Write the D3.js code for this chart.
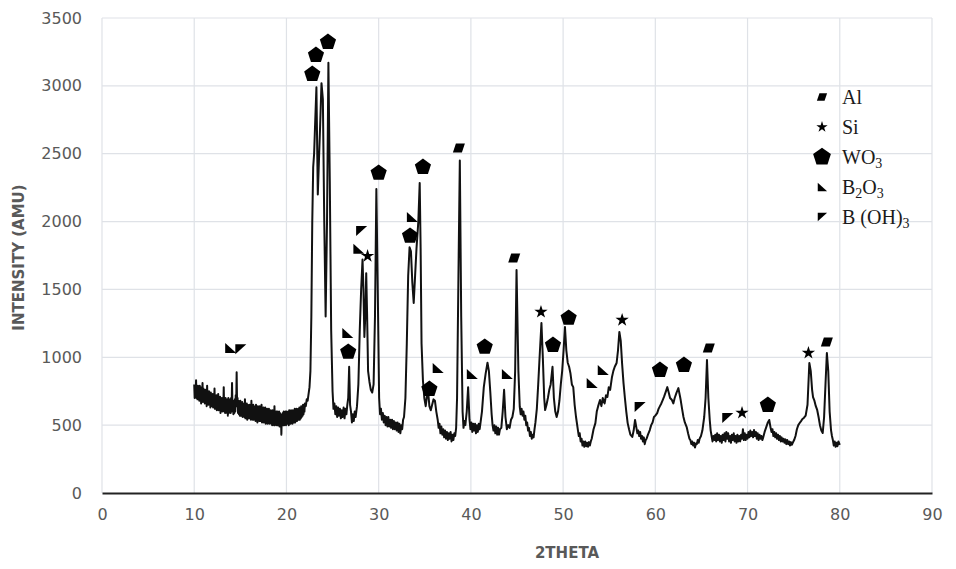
<!DOCTYPE html>
<html>
<head>
<meta charset="utf-8">
<script src="https://cdn.jsdelivr.net/npm/d3@7"></script>
<style>
  body { margin: 0; background: #fff; }
  #xrd-chart { width: 956px; height: 569px; }
</style>
</head>
<body>
<div id="xrd-chart"></div>
<script>
// XRD scan, [2theta, intensity]
const pattern = [
  [10.0,800],[10.05,700],[10.1,790],[10.15,720],[10.2,830],[10.25,700],[10.3,770],[10.35,690],[10.4,790],[10.45,700],
  [10.5,760],[10.55,680],[10.6,790],[10.65,710],[10.7,760],[10.75,660],[10.8,780],[10.85,690],[10.9,810],[10.95,670],
  [11.0,770],[11.05,680],[11.1,750],[11.15,660],[11.2,760],[11.25,670],[11.3,740],[11.35,640],[11.4,790],[11.45,660],
  [11.5,730],[11.55,650],[11.6,750],[11.65,660],[11.7,730],[11.75,630],[11.8,740],[11.85,650],[11.9,720],[11.95,640],
  [12.0,730],[12.05,630],[12.1,720],[12.15,640],[12.2,770],[12.25,620],[12.3,710],[12.35,630],[12.4,720],[12.45,610],
  [12.5,700],[12.55,630],[12.6,730],[12.65,610],[12.7,700],[12.75,620],[12.8,710],[12.85,590],[12.9,700],[12.95,610],
  [13.0,700],[13.05,600],[13.1,690],[13.15,610],[13.2,780],[13.25,600],[13.3,690],[13.35,590],[13.4,700],[13.45,600],
  [13.5,680],[13.55,590],[13.6,690],[13.65,570],[13.7,700],[13.75,590],[13.8,680],[13.85,600],[13.9,690],[13.95,590],
  [14.0,700],[14.05,600],[14.1,810],[14.15,620],[14.2,680],[14.25,580],[14.3,670],[14.35,590],[14.4,690],[14.45,600],
  [14.5,720],[14.55,640],[14.6,890],[14.65,650],[14.7,700],[14.75,590],[14.8,680],[14.85,580],[14.9,670],[14.95,570],
  [15.0,680],[15.05,570],[15.1,660],[15.15,570],[15.2,670],[15.25,560],[15.3,660],[15.35,570],[15.4,650],[15.45,560],
  [15.5,690],[15.55,550],[15.6,650],[15.65,560],[15.7,660],[15.75,540],[15.8,650],[15.85,560],[15.9,640],[15.95,550],
  [16.0,650],[16.05,550],[16.1,640],[16.15,540],[16.2,680],[16.25,550],[16.3,640],[16.35,540],[16.4,650],[16.45,540],
  [16.5,630],[16.55,550],[16.6,640],[16.65,530],[16.7,650],[16.75,540],[16.8,630],[16.85,520],[16.9,640],[16.95,540],
  [17.0,630],[17.05,530],[17.1,640],[17.15,530],[17.2,620],[17.25,530],[17.3,650],[17.35,520],[17.4,620],[17.45,530],
  [17.5,630],[17.55,520],[17.6,610],[17.65,530],[17.7,630],[17.75,510],[17.8,610],[17.85,520],[17.9,620],[17.95,510],
  [18.0,610],[18.05,520],[18.1,620],[18.15,510],[18.2,600],[18.25,520],[18.3,610],[18.35,510],[18.4,600],[18.45,500],
  [18.5,610],[18.55,510],[18.6,600],[18.65,500],[18.7,640],[18.75,500],[18.8,590],[18.85,510],[18.9,600],[18.95,500],
  [19.0,600],[19.05,500],[19.1,590],[19.15,500],[19.2,600],[19.25,490],[19.3,590],[19.35,500],[19.4,580],[19.45,430],
  [19.5,580],[19.55,500],[19.6,590],[19.65,500],[19.7,600],[19.75,500],[19.8,590],[19.85,510],[19.9,600],[19.95,500],
  [20.0,600],[20.05,510],[20.1,590],[20.15,510],[20.2,600],[20.25,500],[20.3,610],[20.35,510],[20.4,600],[20.45,510],
  [20.5,610],[20.55,520],[20.6,600],[20.65,510],[20.7,610],[20.75,520],[20.8,600],[20.85,520],[20.9,620],[20.95,520],
  [21.0,610],[21.05,530],[21.1,620],[21.15,530],[21.2,610],[21.25,540],[21.3,620],[21.35,540],[21.4,630],[21.45,540],
  [21.5,620],[21.55,550],[21.6,640],[21.65,560],[21.7,630],[21.75,570],[21.8,650],[21.85,580],[21.9,640],[21.95,600],
  [22.0,660],[22.1,640],[22.2,690],[22.3,680],[22.4,730],[22.5,780],[22.6,900],[22.7,1300],[22.8,2000],[22.9,2400],
  [23.0,2500],[23.1,2700],[23.25,2990],[23.4,2200],[23.5,2400],[23.65,2700],[23.8,3020],[23.95,2900],[24.1,2000],
  [24.25,1300],[24.4,2000],[24.55,3170],[24.7,2300],[24.85,1200],[25.0,750],[25.1,620],[25.2,660],[25.3,580],
  [25.4,640],[25.5,560],[25.6,630],[25.7,570],[25.8,620],[25.9,550],[26.0,610],[26.1,560],[26.2,630],[26.3,550],
  [26.4,620],[26.5,580],[26.6,650],[26.7,700],[26.8,930],[26.9,650],[27.0,600],[27.1,520],[27.2,580],[27.3,530],
  [27.4,600],[27.5,560],[27.65,640],[27.8,800],[27.95,1200],
  [28.1,1500],[28.25,1720],[28.35,1500],[28.45,1150],[28.55,1300],[28.65,1620],[28.75,1300],[28.85,900],
  [29.0,820],[29.15,760],[29.3,740],[29.45,800],[29.6,1300],[29.75,2240],[29.9,1500],[30.05,700],[30.15,580],
  [30.25,620],[30.35,540],[30.45,590],[30.55,520],[30.65,570],[30.75,500],[30.85,560],[30.95,490],[31.05,560],
  [31.15,490],[31.25,540],[31.35,480],[31.45,540],[31.55,470],[31.65,530],[31.75,470],[31.85,520],[31.95,460],
  [32.05,520],[32.15,450],[32.25,510],[32.35,440],[32.45,500],[32.55,470],[32.65,540],[32.75,560],[32.9,700],
  [33.05,1100],[33.2,1600],[33.35,1810],[33.5,1780],[33.65,1550],[33.8,1400],[33.95,1600],[34.1,1800],
  [34.3,2000],[34.45,2285],[34.55,1800],[34.65,1100],[34.8,830],[34.95,700],[35.1,640],[35.25,720],[35.35,760],
  [35.5,640],[35.65,610],[35.8,650],[35.95,690],[36.1,680],[36.25,600],[36.4,540],[36.5,480],[36.6,510],
  [36.7,440],[36.8,490],[36.9,430],[37.0,470],[37.1,410],[37.2,460],[37.3,400],[37.4,450],[37.5,390],[37.6,440],
  [37.7,400],[37.8,450],[37.9,380],[38.0,430],[38.1,390],[38.2,440],[38.3,420],[38.4,480],
  [38.5,700],[38.65,1600],[38.8,2450],[38.95,1300],[39.1,600],[39.2,480],[39.3,530],[39.4,500],
  [39.55,600],[39.7,780],[39.85,540],[39.95,470],[40.05,520],[40.15,450],[40.25,510],[40.35,460],[40.45,510],
  [40.55,440],[40.65,500],[40.75,450],[40.85,510],[40.95,470],[41.05,520],[41.2,600],[41.4,780],[41.6,880],
  [41.8,960],[41.95,900],[42.1,750],[42.25,580],[42.35,500],[42.45,460],[42.55,500],[42.65,440],[42.75,490],
  [42.85,430],[42.95,480],[43.05,430],[43.15,470],[43.3,480],[43.45,600],[43.6,760],
  [43.75,560],[43.9,470],[44.05,500],[44.2,480],[44.35,540],[44.5,560],[44.65,620],[44.8,900],[44.95,1643],
  [45.15,900],[45.3,634],[45.4,580],[45.5,620],[45.6,570],[45.7,600],[45.8,540],[45.9,570],[46.0,500],
  [46.1,520],[46.2,460],[46.3,480],[46.4,420],[46.5,450],[46.6,400],[46.7,430],[46.8,410],[46.9,470],
  [47.0,520],[47.15,620],[47.3,800],[47.45,1000],[47.65,1253],[47.8,1000],
  [47.95,700],[48.05,611],[48.2,650],[48.35,700],[48.5,760],[48.65,800],[48.85,930],[49.0,700],[49.15,600],
  [49.3,560],[49.45,600],[49.6,680],[49.75,800],[49.9,900],[50.05,1050],[50.2,1223],[50.35,1050],[50.5,960],
  [50.65,930],[50.8,880],[50.95,800],[51.1,780],[51.25,650],[51.4,560],[51.6,465],[51.7,420],[51.8,440],
  [51.9,380],[52.0,400],[52.1,350],[52.2,380],[52.3,340],[52.4,380],[52.5,345],[52.6,370],[52.7,340],
  [52.8,375],[52.9,350],[53.0,380],[53.1,400],[53.3,470],[53.5,515],
  [53.65,600],[53.8,640],[54.0,685],[54.15,640],[54.3,700],[54.5,660],[54.65,720],[54.8,707],[54.95,780],
  [55.1,760],[55.3,855],[55.45,900],[55.6,930],[55.8,958],[55.95,1050],[56.1,1187],[56.25,1120],[56.4,950],
  [56.55,810],[56.7,700],[56.85,600],[57.0,515],[57.15,470],[57.3,430],[57.5,413],[57.65,460],[57.8,538],
  [57.95,480],[58.05,440],[58.15,460],[58.25,420],[58.35,450],[58.45,400],[58.55,420],[58.65,380],[58.75,410],
  [58.85,360],[58.95,390],[59.05,400],[59.2,430],[59.4,464],
  [59.55,500],[59.7,520],[59.85,560],[60.0,570],[60.2,589],[60.35,620],[60.5,640],[60.65,660],[60.8,685],
  [60.95,710],[61.1,740],[61.3,780],[61.45,740],[61.6,700],[61.8,685],[61.95,660],[62.1,700],[62.3,740],
  [62.5,773],[62.65,720],[62.75,685],[62.9,620],[63.05,560],[63.2,520],[63.4,486],[63.55,440],[63.7,400],
  [63.8,390],[63.9,360],[64.0,380],[64.1,350],[64.2,370],[64.3,335],[64.4,365],[64.5,360],[64.6,390],
  [64.7,370],[64.8,400],[64.95,420],[65.1,460],
  [65.3,560],[65.45,700],[65.6,980],[65.75,700],[65.9,538],[66.0,460],[66.1,420],[66.2,380],[66.3,420],
  [66.4,390],[66.5,430],[66.6,380],[66.7,440],[66.8,390],[66.9,430],[67.0,380],[67.1,420],[67.2,370],
  [67.3,430],[67.4,390],[67.5,440],[67.6,380],[67.7,450],[67.8,400],[67.9,440],[68.0,380],[68.1,420],
  [68.2,370],[68.3,430],[68.4,390],[68.5,440],[68.6,380],[68.7,420],[68.8,370],[68.9,430],[69.0,380],
  [69.1,420],[69.2,380],[69.3,430],[69.4,400],[69.5,470],[69.6,390],[69.7,440],[69.8,390],[69.9,430],
  [70.0,400],[70.1,450],[70.2,410],[70.3,460],[70.4,420],[70.5,450],[70.6,410],[70.7,465],[70.8,420],
  [70.9,450],[71.0,400],[71.1,440],[71.2,390],[71.3,430],[71.4,400],[71.5,420],[71.6,390],[71.7,410],
  [71.85,450],[72.0,480],[72.2,520],[72.35,538],[72.5,480],[72.6,450],[72.7,470],[72.8,420],[72.9,450],
  [73.0,410],[73.1,440],[73.2,400],[73.3,430],[73.4,390],[73.5,420],[73.6,380],[73.7,410],[73.8,380],
  [73.9,400],[74.0,370],[74.1,395],[74.2,360],[74.3,390],[74.4,360],[74.5,380],[74.6,350],[74.7,375],
  [74.8,355],[74.9,370],[75.05,390],[75.2,420],[75.35,470],[75.5,500],[75.65,516],[75.8,530],[75.95,545],
  [76.1,553],[76.3,570],[76.5,650],[76.7,958],[76.85,900],[77.0,760],[77.1,707],[77.25,680],[77.4,640],
  [77.55,612],[77.7,560],[77.85,500],[78.0,460],[78.15,442],[78.3,560],[78.45,800],[78.6,1032],[78.75,900],
  [78.9,600],[79.05,464],[79.15,420],[79.25,390],[79.35,350],[79.45,380],[79.55,340],[79.65,370],[79.75,345],
  [79.85,380],[80.0,354]
];

// peak markers, [2theta, intensity]
const alPeaks = [[38.7,2542],[44.7,1732],[65.8,1068],[78.6,1113]];
const siPeaks = [[28.8,1746],[47.6,1334],[56.4,1275],[69.4,590],[76.6,1032]];
const wo3Peaks = [[22.8,3087],[23.2,3227],[24.5,3323],[26.7,1039],[30.0,2358],[33.4,1894],[34.8,2402],
  [35.5,766],[41.5,1076],[48.9,1090],[50.6,1290],[60.5,906],[63.1,943],[72.2,648]];
const b2o3Peaks = [[13.9,1068],[26.6,1179],[27.8,1800],[33.6,2034],[36.4,921],[40.1,877],[43.9,877],[53.1,810],[54.3,906]];
const bohPeaks = [[15.0,1060],[28.1,1931],[58.3,634],[67.8,553]];

const xTicks = [0, 10, 20, 30, 40, 50, 60, 70, 80, 90];
const yTicks = [0, 500, 1000, 1500, 2000, 2500, 3000, 3500];

const legendItems = [
  { key: "al", label: ["Al"] },
  { key: "si", label: ["Si"] },
  { key: "wo3", label: ["WO", "3"] },
  { key: "b2o3", label: ["B", "2", "O", "3"] },
  { key: "boh", label: ["B (OH)", "3"] },
];

// marker shapes
function pentagon(r) {
  const pts = d3.range(5).map(i => {
    const a = -Math.PI / 2 + i * 2 * Math.PI / 5;
    return [r * Math.cos(a), r * Math.sin(a)];
  });
  return "M" + pts.map(p => p.join(",")).join("L") + "Z";
}
const shapes = {
  al: s => `M${-3*s},${-4.5*s}L${6*s},${-4.5*s}L${3*s},${4.5*s}L${-6*s},${4.5*s}Z`,
  si: s => d3.symbol(d3.symbolStar, 55 * s * s)(),
  wo3: s => pentagon(8.5 * s),
  b2o3: s => `M${-5*s},${-5*s}L${6*s},${5*s}L${-5*s},${5*s}Z`,
  boh: s => `M${-5*s},${-5*s}L${6*s},${-5*s}L${-5*s},${5*s}Z`,
};

function drawChart() {
  const container = document.querySelector("#xrd-chart");
  const W = 956, H = 569;
  const margin = { top: 18, right: 24, bottom: 76, left: 102 };
  const width = W - margin.left - margin.right;
  const height = H - margin.top - margin.bottom;

  const root = d3.select(container).append("svg")
    .attr("width", W)
    .attr("height", H);

  const svg = root.append("g")
    .attr("transform", `translate(${margin.left},${margin.top})`);

  const x = d3.scaleLinear().domain([0, 90]).range([0, width]);
  const y = d3.scaleLinear().domain([0, 3500]).range([height, 0]);

  // gridlines
  svg.append("g")
    .selectAll("line")
    .data(yTicks.slice(1))
    .enter().append("line")
    .attr("x1", 0).attr("x2", width)
    .attr("y1", d => y(d)).attr("y2", d => y(d))
    .attr("stroke", "#dfe2e7").attr("stroke-width", 1.2);

  svg.append("g")
    .selectAll("line")
    .data(xTicks)
    .enter().append("line")
    .attr("x1", d => x(d)).attr("x2", d => x(d))
    .attr("y1", 0).attr("y2", height)
    .attr("stroke", "#dfe2e7").attr("stroke-width", 1.2);

  // axes
  const xAxis = svg.append("g")
    .attr("transform", `translate(0,${height})`)
    .call(d3.axisBottom(x).tickValues(xTicks).tickSize(0).tickPadding(16));
  xAxis.select(".domain").attr("stroke", "#222").attr("stroke-width", 2);

  const yAxis = svg.append("g")
    .call(d3.axisLeft(y).tickValues(yTicks).tickFormat(d3.format("d")).tickSize(0).tickPadding(20));
  yAxis.select(".domain").remove();

  svg.selectAll(".tick text")
    .style("font-family", "DejaVu Sans, sans-serif")
    .style("font-size", "16px")
    .style("fill", "#595959");

  // axis titles
  root.append("text")
    .attr("transform", `translate(24,${margin.top + height / 2 + 2}) rotate(-90)`)
    .attr("text-anchor", "middle")
    .style("font-family", "DejaVu Sans, sans-serif")
    .style("font-size", "15px")
    .style("font-weight", "bold")
    .style("fill", "#595959")
    .text("INTENSITY (AMU)");

  root.append("text")
    .attr("x", margin.left + width / 2 + 50)
    .attr("y", 558)
    .attr("text-anchor", "middle")
    .style("font-family", "DejaVu Sans, sans-serif")
    .style("font-size", "15px")
    .style("font-weight", "bold")
    .style("fill", "#595959")
    .text("2THETA");

  // scan trace
  const line = d3.line()
    .x(d => x(d[0]))
    .y(d => y(d[1]));

  svg.append("path")
    .datum(pattern)
    .attr("fill", "none")
    .attr("stroke", "#111")
    .attr("stroke-width", 2)
    .attr("stroke-linejoin", "round")
    .attr("d", line);

  // peak markers
  const markerSets = [
    ["al", alPeaks], ["si", siPeaks], ["wo3", wo3Peaks], ["b2o3", b2o3Peaks], ["boh", bohPeaks],
  ];
  markerSets.forEach(([key, pts]) => {
    svg.append("g")
      .selectAll("path")
      .data(pts)
      .enter().append("path")
      .attr("transform", d => `translate(${x(d[0])},${y(d[1])})`)
      .attr("d", shapes[key](1))
      .attr("fill", "#000");
  });

  // legend
  const legend = root.append("g").attr("transform", "translate(822,97)");
  const rows = legend.selectAll("g")
    .data(legendItems)
    .enter().append("g")
    .attr("transform", (d, i) => `translate(0,${i * 30})`);

  rows.append("path")
    .attr("d", d => shapes[d.key](d.key === "wo3" ? 1.1 : 0.85))
    .attr("fill", "#000");

  const txt = rows.append("text")
    .attr("x", 20)
    .attr("y", 7)
    .style("font-family", "Liberation Serif, serif")
    .style("font-size", "20px")
    .style("fill", "#1a1a1a");

  txt.each(function(d) {
    const t = d3.select(this);
    d.label.forEach((part, i) => {
      const sub = /^\d$/.test(part);
      t.append("tspan")
        .attr("dy", sub ? 4 : (i > 0 ? -4 : 0))
        .style("font-size", sub ? "14px" : "20px")
        .text(part);
    });
  });
}

drawChart();
</script>
</body>
</html>
